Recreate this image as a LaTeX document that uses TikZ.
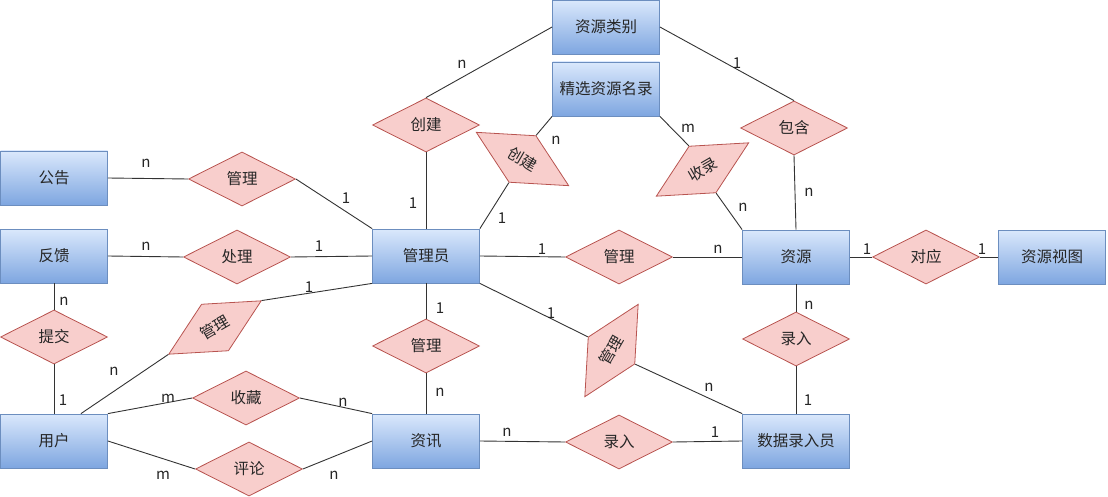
\documentclass[tikz,border=0pt]{standalone}
\usepackage{fontspec}
\setmainfont{Noto Sans CJK SC}
\usetikzlibrary{shapes.geometric,calc}
\definecolor{entTop}{HTML}{DAE8FC}
\definecolor{entBot}{HTML}{7EA6E0}
\definecolor{entLine}{HTML}{6C8EBF}
\definecolor{relFill}{HTML}{F8CECC}
\definecolor{relLine}{HTML}{B85450}
\definecolor{conn}{HTML}{333333}
\tikzset{
  entity/.style={rectangle, draw=entLine, line width=0.8pt, top color=entTop, bottom color=entBot,
    minimum width=107pt, minimum height=54pt, inner sep=0pt, font=\fontsize{15.5}{18}\selectfont, text=black!85},
  rel/.style={diamond, draw=relLine, line width=0.8pt, fill=relFill, aspect=2,
    minimum width=107pt, minimum height=54pt, inner sep=0pt, font=\fontsize{15.5}{18}\selectfont, text=black!85},
  conline/.style={draw=conn, line width=0.9pt},
  lbl/.style={font=\fontsize{15}{17}\selectfont, text=black!85, inner sep=0pt}
}
\begin{document}
\begin{tikzpicture}[x=1pt,y=-1pt]
\useasboundingbox (0,0) rectangle (1108,497);
% entities
\node[entity] (lb)  at (606,27)  {资源类别};
\node[entity] (jx)  at (606,89)  {精选资源名录};
\node[entity] (gg)  at (54,178)  {公告};
\node[entity] (fk)  at (54,256)  {反馈};
\node[entity] (gly) at (426,256) {管理员};
\node[entity] (zy)  at (796,257) {资源};
\node[entity] (st)  at (1052,257) {资源视图};
\node[entity] (yh)  at (54,441)  {用户};
\node[entity] (zx)  at (426,441) {资讯};
\node[entity] (sj)  at (796,441) {数据录入员};
% relationships
\node[rel] (cj1) at (426,125) {创建};
\node[rel, rotate=-30] (cj2) at (522.5,159) {创建};
\node[rel, rotate=30] (sl) at (702.5,169.5) {收录};
\node[rel] (bh) at (794,128) {包含};
\node[rel] (gl1) at (242,179) {管理};
\node[rel] (cl) at (237,257) {处理};
\node[rel, rotate=30] (gl2) at (215,327.5) {管理};
\node[rel] (tj) at (54,337) {提交};
\node[rel] (sc) at (246,398) {收藏};
\node[rel] (pl) at (249,469) {评论};
\node[rel] (gl3) at (426,346) {管理};
\node[rel] (gl4) at (619,257) {管理};
\node[rel, rotate=60] (gl5) at (611.5,350.5) {管理};
\node[rel] (dy) at (926,257) {对应};
\node[rel] (lr1) at (796,339) {录入};
\node[rel] (lr2) at (619,442) {录入};
% connectors
\begin{scope}[conline]
\draw (lb.west) -- (cj1.north);
\draw (lb.east) -- (bh.north);
\draw (cj1.south) -- (gly.north);
\draw (gly.north east) -- (cj2.south);
\draw (cj2.north) -- (jx.south west);
\draw (jx.south east) -- (sl.north);
\draw (sl.south) -- (zy.north west);
\draw (bh.south) -- (zy.north);
\draw (gg.east) -- (gl1.west);
\draw (gl1.east) -- (gly.north west);
\draw (fk.east) -- (cl.west);
\draw (cl.east) -- (gly.west);
\draw (fk.south) -- (tj.north);
\draw (tj.south) -- (yh.north);
\coordinate (yhn) at ($(yh.north)!0.5!(yh.north east)$);
\draw (yhn) -- (gl2.west);
\draw (gl2.east) -- (gly.south west);
\draw (yh.north east) -- (sc.west);
\draw (sc.east) -- (zx.north west);
\draw (yh.east) -- (pl.west);
\draw (pl.east) -- (zx.west);
\draw (gly.south) -- (gl3.north);
\draw (gl3.south) -- (zx.north);
\draw (gly.south east) -- (gl5.north);
\draw (gl5.south) -- (sj.north west);
\draw (gly.east) -- (gl4.west);
\draw (gl4.east) -- (zy.west);
\draw (zx.east) -- (lr2.west);
\draw (lr2.east) -- (sj.west);
\draw (zy.south) -- (lr1.north);
\draw (lr1.south) -- (sj.north);
\draw (zy.east) -- (dy.west);
\draw (dy.east) -- (st.west);
\end{scope}
% cardinality labels
\node[lbl] (c1) at (462,64) {n};
\node[lbl] (c2) at (737,63) {1};
\node[lbl] (c3) at (413,203) {1};
\node[lbl] (c4) at (502,218) {1};
\node[lbl] (c5) at (556,140) {n};
\node[lbl] (c6) at (688,128) {m};
\node[lbl] (c7) at (743,207) {n};
\node[lbl] (c8) at (809,192) {n};
\node[lbl] (c9) at (146,163) {n};
\node[lbl] (c10) at (346,198) {1};
\node[lbl] (c11) at (146,246) {n};
\node[lbl] (c12) at (319,246) {1};
\node[lbl] (c13) at (309,287) {1};
\node[lbl] (c14) at (64,301) {n};
\node[lbl] (c15) at (63,400) {1};
\node[lbl] (c16) at (114,371) {n};
\node[lbl] (c17) at (168,398) {m};
\node[lbl] (c18) at (343,402) {n};
\node[lbl] (c19) at (163,475) {m};
\node[lbl] (c20) at (334,475) {n};
\node[lbl] (c21) at (440,308) {1};
\node[lbl] (c22) at (440,392) {n};
\node[lbl] (c23) at (551,313) {1};
\node[lbl] (c24) at (709,387) {n};
\node[lbl] (c25) at (507,432) {n};
\node[lbl] (c26) at (715,432) {1};
\node[lbl] (c27) at (808,400) {1};
\node[lbl] (c28) at (809,305) {n};
\node[lbl] (c29) at (542,249) {1};
\node[lbl] (c30) at (718,249) {n};
\node[lbl] (c31) at (867,249) {1};
\node[lbl] (c32) at (982,249) {1};
\end{tikzpicture}
\end{document}
